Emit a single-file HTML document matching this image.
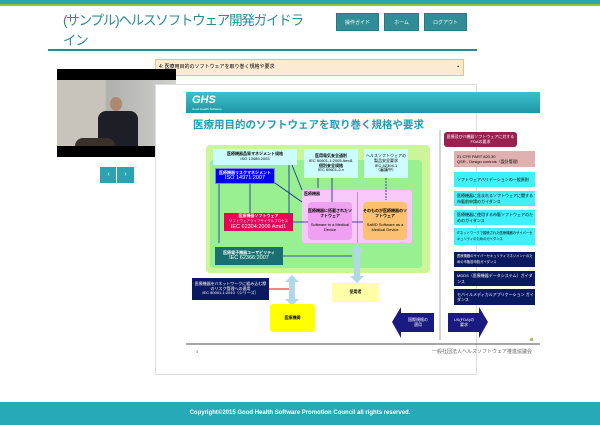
<!DOCTYPE html>
<html><head><meta charset="utf-8"><style>
*{margin:0;padding:0;box-sizing:border-box}
body{width:600px;height:425px;position:relative;background:#fff;font-family:"Liberation Sans","Noto Sans CJK JP",sans-serif;overflow:hidden}
.a{position:absolute}
.btn{position:absolute;top:13px;height:18px;background:#2e8d97;color:#fff;font-size:5px;text-align:center;line-height:18px;border:1px solid #277a83}
.b{position:absolute;font-size:4px;line-height:4.8px;text-align:center;display:flex;flex-direction:column;justify-content:center;align-items:center;overflow:hidden;white-space:nowrap}
.r{position:absolute;left:454px;width:81px;font-size:4px;line-height:5.5px;padding-left:3px;display:flex;flex-direction:column;justify-content:center;overflow:hidden}
</style></head><body>
<div class="a" style="left:0;top:0;width:600px;height:4px;background:#2aa4b2"></div>
<div class="a" style="left:0;top:4px;width:600px;height:1.5px;background:#8cc63f"></div>
<div class="a" style="left:63px;top:11px;width:250px;font-size:13.5px;letter-spacing:-1.2px;line-height:20px;color:#2a8a98">(サンプル)ヘルスソフトウェア開発ガイドライン</div>
<div class="btn" style="left:336px;width:43px">操作ガイド</div>
<div class="btn" style="left:384px;width:35px">ホーム</div>
<div class="btn" style="left:424px;width:43px">ログアウト</div>
<div class="a" style="left:48px;top:49px;width:429px;height:1.5px;background:#2a8a98"></div>
<div class="a" style="left:155px;top:59px;width:309px;height:17px;background:#fbebd2;border:1px solid #f5c06f;font-size:5px;line-height:15px;padding-left:3px">4: 医療用目的のソフトウェアを取り巻く規格や要求<span style="position:absolute;right:4px">▪</span></div>
<!-- video -->
<div class="a" style="left:57px;top:69px;width:119px;height:88px;background:#000"></div>
<div class="a" style="left:57px;top:80px;width:119px;height:66px;background:linear-gradient(90deg,#c8c4bc 0,#c8c4bc 40%,#b0b0ac 42%,#d0d0cc 100%)"></div>
<div class="a" style="left:110px;top:97px;width:12px;height:14px;border-radius:50%;background:#b08870"></div>
<div class="a" style="left:98px;top:111px;width:40px;height:35px;background:#1e1e26;border-radius:8px 8px 0 0"></div>
<div class="a" style="left:75px;top:138px;width:40px;height:8px;background:#3a302c;border-radius:8px 8px 0 0"></div>
<div class="a" style="left:100px;top:167px;width:34px;height:16px;background:#2aa4b2"></div>
<div class="a" style="left:116px;top:167px;width:1px;height:16px;background:#fff"></div>
<div class="a" style="left:100px;top:167px;width:17px;font-size:7px;color:#fff;text-align:center;line-height:16px">‹</div>
<div class="a" style="left:117px;top:167px;width:17px;font-size:7px;color:#fff;text-align:center;line-height:16px">›</div>
<!-- panel -->
<div class="a" style="left:155px;top:84px;width:322px;height:291px;border:1px solid #ddd;background:#fff"></div>
<div class="a" style="left:186px;top:92px;width:354px;height:21px;background:linear-gradient(#3cc0cc,#1f96a4)"></div>
<div class="a" style="left:192px;top:94px;color:#fff;font-size:11px;font-weight:bold;font-style:italic">GHS</div>
<div class="a" style="left:192px;top:107px;color:#fff;font-size:3px">Good Health Software</div>
<div class="a" style="left:193px;top:117px;color:#1aa0b0;font-size:10.5px;font-weight:bold">医療用目的のソフトウェアを取り巻く規格や要求</div>
<div class="a" style="left:206px;top:145px;width:224px;height:128px;background:#ccf59a;border-radius:4px"></div>
<div class="a" style="left:210px;top:160px;width:212px;height:108px;background:#98f090;border-radius:3px"></div>
<div class="b" style="left:213px;top:149px;width:84px;height:16px;background:#ccfcfc"><b>医療機器品質マネジメント規格</b>ISO 13485:2003</div>
<div class="b" style="left:304px;top:149px;width:54px;height:29px;background:#ccfcfc"><b>医用電気安全通則</b>IEC 60601-1:2005 Amd1<b>個別安全規格</b>IEC 60601-2-x</div>
<div class="b" style="left:364px;top:149px;width:44px;height:29px;background:#ccfcfc">ヘルスソフトウェアの<br>製品安全要求<br>IEC 82304-1<br>（審議中）</div>
<div class="b" style="left:215px;top:168px;width:60px;height:16px;background:#0000ee;color:#fff;border:1px solid #8080ff"><b>医療機器リスクマネジメント</b><span style="font-size:5.5px;line-height:6px">ISO 14971:2007</span></div>
<div class="a" style="left:302px;top:190px;width:110px;height:53px;background:#f8c8f8;border-radius:3px"></div>
<div class="a" style="left:304px;top:191px;font-size:4px;font-weight:bold">医療機器</div>
<div class="b" style="left:308px;top:202px;width:44px;height:38px;background:#f0a0f0;border-radius:4px;white-space:normal"><b>医療機器に搭載されたソフトウェア</b><br>Software in a Medical Device</div>
<div class="b" style="left:363px;top:202px;width:44px;height:38px;background:#fbc070;border-radius:4px;white-space:normal"><b>そのものが医療機器のソフトウェア</b><br>SaMD Software as a Medical Device</div>
<div class="a" style="left:357px;top:192px;width:1px;height:51px;background:#c090c0"></div>
<div class="b" style="left:224px;top:213px;width:69px;height:18px;background:#e8005a;color:#fff"><b>医療機器ソフトウェア</b><span style="font-size:3.5px">ソフトウェアライフサイクルプロセス</span><span style="font-size:5.5px;line-height:6px">IEC 62304:2006 Amd1</span></div>
<div class="b" style="left:215px;top:247px;width:68px;height:18px;background:#1a7070;color:#fff"><b>医療電子機器ユーザビリティ</b><span style="font-size:5.5px;line-height:6px">IEC 62366:2007</span></div>
<svg class="a" style="left:0;top:0" width="600" height="425">
<g stroke="#2020a0" stroke-width="0.8" fill="none">
<line x1="219" y1="184" x2="219" y2="243"/><line x1="250" y1="184" x2="250" y2="213"/><line x1="289" y1="165" x2="289" y2="213"/>
<line x1="292" y1="165" x2="302" y2="190"/><line x1="275" y1="183" x2="302" y2="202"/>
<line x1="293" y1="222" x2="308" y2="222"/><line x1="352" y1="222" x2="363" y2="222"/>
<line x1="283" y1="256" x2="352" y2="256"/><line x1="332" y1="178" x2="332" y2="202"/><line x1="318" y1="178" x2="318" y2="188"/>
<line x1="386" y1="178" x2="386" y2="200" stroke-dasharray="2,1"/>
</g>
<line x1="269" y1="289" x2="290" y2="289" stroke="#f00" stroke-width="1"/>
<polygon points="292,275 299,282 295,282 295,299 299,299 292,306 285,299 289,299 289,282 285,282" fill="#b0d8e8"/>
<polygon points="357,245 364,252 360,252 360,276 364,276 357,283 350,276 354,276 354,252 350,252" fill="#b0d8e8"/>
<polygon points="392,322 401,307 401,313 434,313 434,332 401,332 401,338" fill="#1a1a80"/>
<polygon points="488,322 479,307 479,313 448,313 448,332 479,332 479,338" fill="#1a1a80"/>
<line x1="440" y1="130" x2="440" y2="340" stroke="#888" stroke-width="0.7"/>
<line x1="186" y1="344" x2="540" y2="344" stroke="#888" stroke-width="1.5"/>
</svg>
<div class="b" style="left:192px;top:278px;width:77px;height:22px;background:#0a1a60;color:#fff;white-space:normal;padding:0 2px">医療機器をITネットワークに組み込む際のリスク管理への適用<br>IEC 80001-1:2010（シリーズ）</div>
<div class="b" style="left:332px;top:283px;width:47px;height:19px;background:#ffffa8;font-weight:bold">使用者</div>
<div class="b" style="left:270px;top:304px;width:45px;height:28px;background:#ffff00;font-weight:bold;border-radius:3px">医療機関</div>
<div class="b" style="left:402px;top:313px;width:32px;height:19px;color:#fff">国際規格の<br>適用</div>
<div class="b" style="left:448px;top:313px;width:32px;height:19px;color:#fff">US(FDA)の<br>要求</div>
<div class="b" style="left:444px;top:132px;width:73px;height:15px;background:#9a2050;color:#fff;border-radius:3px;white-space:normal;padding:0 2px">医療及びIT機器ソフトウェアに対するFDAの要求</div>
<div class="r" style="top:151px;height:16px;background:#e0b0b0">21 CFR PART 820.30<br>QSR - Design controls（設計管理）</div>
<div class="r" style="top:172px;height:15px;background:#40f0f8">ソフトウェアバリデーションの一般原則</div>
<div class="r" style="top:191px;height:15px;background:#40f0f8">医療機器に含まれるソフトウェアに関する市販前申請のガイダンス</div>
<div class="r" style="top:210px;height:15px;background:#40f0f8">医療機器に使用する市販ソフトウェアのためのガイダンス</div>
<div class="r" style="top:228px;height:17px;background:#40f0f8;font-size:3.3px">ITネットワークで接続された医療機器のサイバーセキュリティのためのガイダンス</div>
<div class="r" style="top:252px;height:15px;background:#0a1a60;color:#fff;font-size:3.3px">医療機器のサイバーセキュリティマネジメントのための市販前申請ガイダンス</div>
<div class="r" style="top:271px;height:15px;background:#0a1a60;color:#fff">MDDS（医療機器データシステム）ガイダンス</div>
<div class="r" style="top:289px;height:16px;background:#0a1a60;color:#fff">モバイルメディカルアプリケーション ガイダンス</div>
<div class="a" style="left:530px;top:338px;width:3px;height:3px;background:#9c6"></div>
<div class="a" style="left:196px;top:349px;font-size:4px;color:#666">4</div>
<div class="a" style="left:432px;top:348px;font-size:5px;color:#666">一般社団法人ヘルスソフトウェア推進協議会</div>
<div class="a" style="left:0;top:402px;width:600px;height:23px;background:#27a9b8;color:#fff;font-size:6px;font-weight:bold;text-align:center;line-height:23px">Copyright©2015 Good Health Software Promotion Council all rights reserved.</div>
</body></html>
